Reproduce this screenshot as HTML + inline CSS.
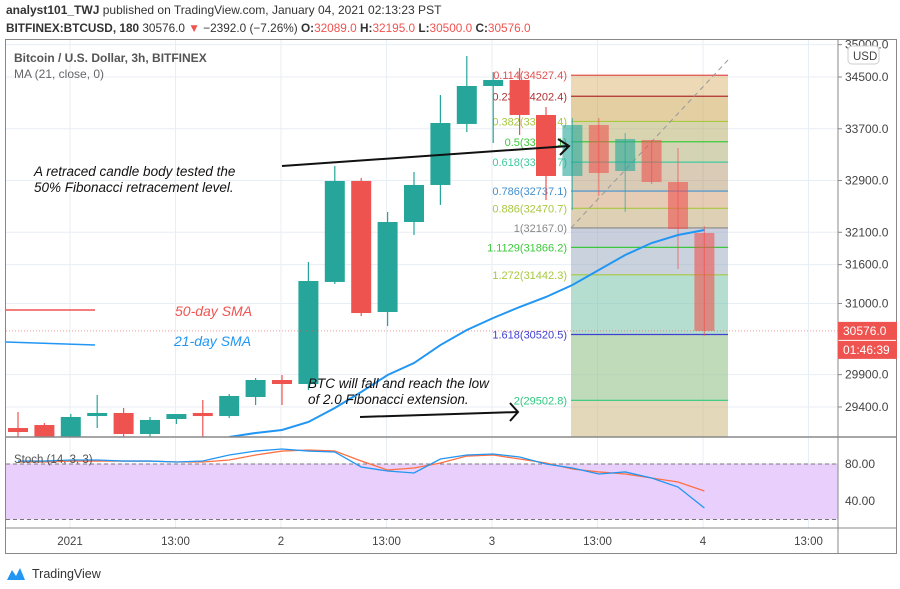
<!DOCTYPE html>
<html><head><meta charset="utf-8"><style>
html,body{margin:0;padding:0;background:#fff;}
svg{display:block;font-family:"Liberation Sans",sans-serif;}
</style></head><body>
<svg id="c" width="900" height="589" viewBox="0 0 900 589" xmlns="http://www.w3.org/2000/svg">
<text x="6" y="14" font-size="12" fill="#333"><tspan font-weight="bold">analyst101_TWJ</tspan> published on TradingView.com, January 04, 2021 02:13:23 PST</text>
<text x="6" y="32" font-size="11.8" fill="#333"><tspan font-weight="bold">BITFINEX:BTCUSD, 180</tspan> 30576.0 <tspan fill="#ef5350">▼</tspan> −2392.0 (−7.26%) <tspan font-weight="bold">O:</tspan><tspan fill="#ef5350">32089.0</tspan> <tspan font-weight="bold">H:</tspan><tspan fill="#ef5350">32195.0</tspan> <tspan font-weight="bold">L:</tspan><tspan fill="#ef5350">30500.0</tspan> <tspan font-weight="bold">C:</tspan><tspan fill="#ef5350">30576.0</tspan></text>
<rect x="5.5" y="39.5" width="891" height="514" fill="none" stroke="#888"/>
<g id="grid"></g>
<g id="fib"></g>
<g id="main"></g>
<g id="stoch"></g>
<line x1="838" y1="40" x2="838" y2="553" stroke="#888"/>
<line x1="6" y1="437" x2="896" y2="437" stroke="#888" stroke-width="1.5"/>
<line x1="6" y1="528" x2="896" y2="528" stroke="#888"/>
<text x="14" y="62" font-size="12" font-weight="bold" fill="#555">Bitcoin / U.S. Dollar, 3h, BITFINEX</text>
<text x="14" y="78" font-size="12" fill="#666">MA (21, close, 0)</text>
<text x="14" y="463" font-size="11.5" fill="#555">Stoch (14, 3, 3)</text>
<g id="annot">
<text x="34" y="176" font-size="13.5" font-style="italic" fill="#111"><tspan x="34">A retraced candle body tested the</tspan><tspan x="34" dy="16">50% Fibonacci retracement level.</tspan></text>
<path d="M282 166 L569 146 M558 139 L569 146 L560 155" stroke="#111" stroke-width="2" fill="none"/>
<line x1="6" y1="310" x2="95" y2="310" stroke="#ef5350" stroke-width="1.5"/>
<text x="175" y="316" font-size="14" font-style="italic" fill="#ef5350">50-day SMA</text>
<line x1="6" y1="342" x2="95" y2="345" stroke="#2196f3" stroke-width="1.5"/>
<text x="174" y="346" font-size="14" font-style="italic" fill="#2196f3">21-day SMA</text>
<text x="308" y="388" font-size="13.5" font-style="italic" fill="#111"><tspan x="308">BTC will fall and reach the low</tspan><tspan x="308" dy="16">of 2.0 Fibonacci extension.</tspan></text>
<path d="M360 417 L518 412 M510 403 L518 412 L510 421" stroke="#111" stroke-width="2" fill="none"/>
</g>
<g id="axis"></g>
<g>
<path d="M7 580 L12 570 L16 576 L20 568 L25 580 Z" fill="#2196f3"/>
<text x="32" y="578" font-size="12.5" fill="#333">TradingView</text>
</g>
</svg>
<script>
const opens  =[29075,29121,28889,29260,29307,28982,29214,29307,29260,29554,29817,29755,31332,32893,30868,32259,32831,33774,34361,34454,33913,32970,33758,33047,33526,32877,32089];
const highs  =[29322,29152,29291,29585,29384,29245,29291,29508,29600,29848,29894,31641,33124,32939,32413,33032,34222,34825,34577,34639,34036,33866,33866,33634,33526,33403,32195];
const lows   =[28828,28812,28812,29075,28859,28874,29137,28889,29230,29430,29430,29662,31301,30806,30651,32058,32522,33650,33480,33604,32599,32444,32661,32413,32846,31532,30500];
const closes =[29013,28889,29245,29307,28982,29199,29291,29260,29570,29817,29755,31347,32893,30852,32259,32831,33789,34361,34454,33913,32970,33758,33016,33542,32877,32151,30576];
const maVals =[null,null,null,null,null,null,null,null,28936,28998,29044,29168,29384,29631,29894,30079,30357,30590,30775,30945,31100,31285,31517,31749,31934,32058,32135];
const stochK =[83.2,83.2,84.3,84.3,83.2,83.2,82.2,83.2,89.7,94,96.2,94,93,76.8,72.4,70.3,85.4,89.7,90.8,87.6,80,75.7,69.2,71.4,64.9,55.1,32.4];
const stochD =[82.2,82.2,83.2,83.2,83.2,83.2,82.2,82.2,84.3,89.7,94,95.1,94,83.2,73.5,75.7,81.1,88.6,89.7,85.4,81.1,74.6,71.4,69.2,64.9,60.5,50.8];
const fibRatios=["0.114","0.236","0.382","0.5","0.618","0.786","0.886","1","1.1129","1.272","1.618","2"];
const fibPrices=[34527.4,34202.4,33813.4,33499.1,33184.7,32737.1,32470.7,32167.0,31866.2,31442.3,30520.5,29502.8];
const priceTicks=[35000,34500,33700,32900,32100,31600,31000,29900,29400];
const stochTicks=[80,40];
const timeLabels=["2021","13:00","2","13:00","3","13:00","4","13:00"];
const lastPrice=30576;

const NS="http://www.w3.org/2000/svg";
const py=p=>77+(34500-p)/15.456;
const cx=i=>18+i*26.4;
const sy=v=>464+(80-v)*0.925;
const tx=i=>70+i*105.5;
function mk(parent,tag,attrs){const e=document.createElementNS(NS,tag);for(const k in attrs)e.setAttribute(k,attrs[k]);document.getElementById(parent).appendChild(e);return e;}

timeLabels.forEach((t,i)=>{const l=mk('grid','line',{x1:tx(i),x2:tx(i),y1:40,y2:528,stroke:'#e8eef5'});


const tt=mk('axis','text',{x:tx(i),y:545,'font-size':11.5,fill:'#444','text-anchor':'middle'});tt.textContent=t;

});
priceTicks.forEach(p=>{const y=py(p);if(y>42){const l=mk('grid','line',{x1:6,x2:838,y1:y,y2:y,stroke:'#e8eef5'});

}
mk('axis','line',{x1:838,x2:842,y1:y,y2:y,stroke:'#888'});
const t=mk('axis','text',{x:845,y:y+4,'font-size':12,fill:'#444'});t.textContent=p.toFixed(1);

});
const usd=mk('axis','rect',{x:848,y:46,width:31,height:18,rx:4,fill:'#fff',stroke:'#ccc'});


const ut=mk('axis','text',{x:853,y:60,'font-size':11.5,fill:'#444'});ut.textContent='USD';
stochTicks.forEach(v=>{const y=sy(v);const l=mk('grid','line',{x1:6,x2:838,y1:y,y2:y,stroke:'#d6e0ee'});


const t=mk('axis','text',{x:845,y:y+4,'font-size':12,fill:'#444'});t.textContent=v.toFixed(2);

});

const fx1=571,fx2=728;
const bandCols=['rgba(214,170,90,0.45)','rgba(200,160,70,0.5)','rgba(170,160,80,0.45)','rgba(160,160,90,0.45)','rgba(170,140,90,0.45)','rgba(200,140,90,0.45)','rgba(180,150,90,0.45)','rgba(150,160,190,0.5)','rgba(150,165,190,0.5)','rgba(120,195,170,0.55)','rgba(150,195,140,0.6)','rgba(210,190,140,0.6)'];
const lineCols=['#e05050','#b03030','#a8c840','#3cc83c','#40c8a0','#4090d0','#a8c840','#888','#3cc83c','#a8c840','#4040d0','#30c880'];
for(let i=0;i<fibPrices.length;i++){
 const y1=py(fibPrices[i]);const y2=i<fibPrices.length-1?py(fibPrices[i+1]):437;
 const r=mk('fib','rect',{x:fx1,y:y1,width:fx2-fx1,height:y2-y1,fill:bandCols[i]});
 
 
}
fibPrices.forEach((p,i)=>{const y=py(p);
 const l=mk('fib','line',{x1:fx1,x2:fx2,y1:y,y2:y,stroke:lineCols[i],'stroke-width':1.2});
 
 
 const t=mk('fib','text',{x:fx1-4,y:y+4,'font-size':11,fill:lineCols[i],'text-anchor':'end'});t.textContent=fibRatios[i]+'('+p.toFixed(1)+')';
 
 });
const dg=mk('fib','line',{x1:fx1,y1:py(32167),x2:fx2,y2:60,stroke:'#999','stroke-dasharray':'5 4'});



const clip=mk('main','clipPath',{id:'mc'});
const cr=document.createElementNS(NS,'rect');cr.setAttribute('x',6);cr.setAttribute('y',40);cr.setAttribute('width',832);cr.setAttribute('height',397);clip.appendChild(cr);
const mg=mk('main','g',{'clip-path':'url(#mc)',id:'mg'});
opens.forEach((o,i)=>{const c=closes[i],up=c>=o,col=up?'#26a69a':'#ef5350';const inZone=cx(i)>fx1;
 const op=inZone?0.6:1;
 const w=mk('mg','line',{x1:cx(i),x2:cx(i),y1:py(highs[i]),y2:py(lows[i]),stroke:col,'stroke-width':1.2,opacity:op});
 
 
 const top=py(Math.max(o,c)),bot=py(Math.min(o,c));
 const b=mk('mg','rect',{x:cx(i)-10,y:top,width:20,height:Math.max(2.5,bot-top),fill:col,opacity:op});
 
 });
let d='';maVals.forEach((v,i)=>{if(v==null)return;d+=(d?'L':'M')+cx(i)+' '+py(v);});
const ma=mk('mg','path',{d:d,fill:'none',stroke:'#2196f3','stroke-width':2});


const lp=mk('main','line',{x1:6,x2:838,y1:py(lastPrice),y2:py(lastPrice),stroke:'#ef5350','stroke-dasharray':'1 2',opacity:0.6});


const lb=mk('axis','rect',{x:838,y:py(lastPrice)-9,width:59,height:18,fill:'#ef5350'});


const lt=mk('axis','text',{x:843,y:py(lastPrice)+4,'font-size':12,fill:'#fff'});lt.textContent=lastPrice.toFixed(1);
const cb=mk('axis','rect',{x:838,y:py(lastPrice)+10,width:59,height:18,fill:'#ef5350'});


const ct=mk('axis','text',{x:843,y:py(lastPrice)+23,'font-size':12,fill:'#fff'});ct.textContent='01:46:39';

const sf=mk('stoch','rect',{x:6,y:sy(80),width:832,height:sy(20)-sy(80),fill:'#e8cffc'});


[80,20].forEach(v=>{const l=mk('stoch','line',{x1:6,x2:838,y1:sy(v),y2:sy(v),stroke:'#777','stroke-dasharray':'4 3'});

});
function sline(arr,col,name){let p='';arr.forEach((v,i)=>{p+=(i?'L':'M')+cx(i)+' '+sy(v);});
 const e=mk('stoch','path',{d:p,fill:'none',stroke:col,'stroke-width':1.3});
 
 }
sline(stochD,'#ff7043','stoch-d-line');
sline(stochK,'#2196f3','stoch-k-line');
</script>
</body></html>
